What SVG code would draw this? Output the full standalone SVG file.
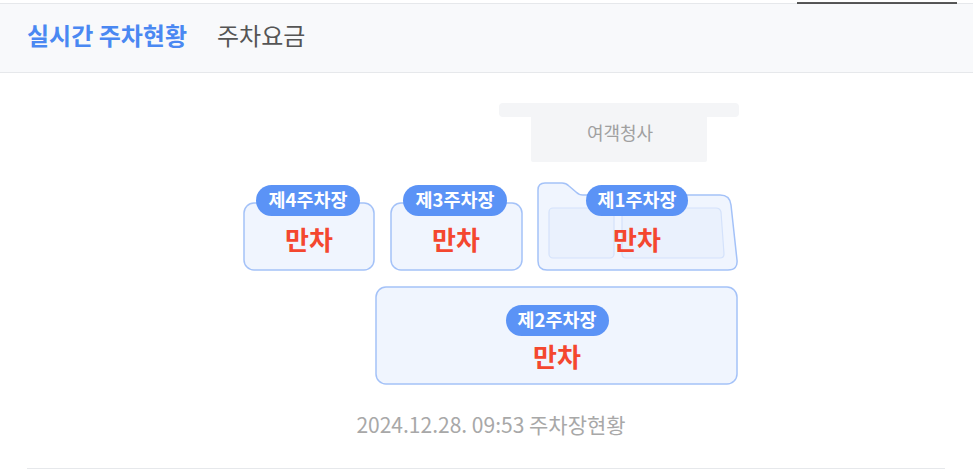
<svg xmlns="http://www.w3.org/2000/svg" width="973" height="473" viewBox="0 0 973 473">
<style>
text{font-family:"Noto Sans CJK KR","Noto Sans",sans-serif}
.lot{fill:#f0f5fe;stroke:#a4c2f8;stroke-width:1.5}
.inner{fill:#eaf1fd;stroke:#d4e2fb;stroke-width:1.2}
.badge{fill:#5b93f6}
.bt{fill:#fff;font-size:18.5px;font-weight:700;text-anchor:middle}
.full{fill:#f4472f;font-size:26px;font-weight:700;text-anchor:middle}
</style>
<rect width="973" height="473" fill="#fff"/>
<g id="header">
<rect x="0" y="3" width="973" height="69" fill="#f8f9fb"/>
<line x1="0" y1="3.5" x2="973" y2="3.5" stroke="#e6e8eb"/>
<line x1="0" y1="72.5" x2="973" y2="72.5" stroke="#e6e8eb"/>
<line x1="797" y1="3" x2="957" y2="3" stroke="#222" stroke-width="1.5"/>
<text x="27" y="45" font-size="24" font-weight="700" fill="#4a88f2">실시간 주차현황</text>
<text x="217" y="45" font-size="24" fill="#555">주차요금</text>
</g>
<g id="terminal">
<rect x="499" y="103" width="240" height="14" rx="4" fill="#f4f5f7"/>
<rect x="531" y="112" width="176" height="50" rx="2" fill="#f4f5f7"/>
<text x="620" y="140" font-size="18" fill="#a0a0a0" text-anchor="middle">여객청사</text>
</g>
<g id="lot4">
<rect class="lot" x="244" y="203" width="130" height="67" rx="10"/>
<rect class="badge" x="256" y="185" width="104" height="31" rx="15.5"/>
<text class="bt" x="308" y="207">제4주차장</text>
<text class="full" x="309" y="250">만차</text>
</g>
<g id="lot3">
<rect class="lot" x="391" y="203" width="131" height="67" rx="10"/>
<rect class="badge" x="403" y="185" width="104" height="31" rx="15.5"/>
<text class="bt" x="455" y="207">제3주차장</text>
<text class="full" x="456" y="250">만차</text>
</g>
<g id="lot1">
<path class="lot" d="M545 183 L562 183 Q566 183 569 186 L576 192 Q579 195 583 195 L720 195 Q730 195 731 205 L737 260 Q738 270 728 270 L547 270 Q538 270 538 261 L538 190 Q538 183 545 183 Z"/>
<rect class="inner" x="549" y="208" width="65" height="50" rx="4"/>
<path class="inner" d="M626 208 L716 208 Q720 208 721 212 L724 254 Q724 258 720 258 L626 258 Q622 258 622 254 L622 212 Q622 208 626 208 Z"/>
<rect class="badge" x="586" y="185" width="102" height="31" rx="15.5"/>
<text class="bt" x="637" y="207">제1주차장</text>
<text class="full" x="637" y="250">만차</text>
</g>
<g id="lot2">
<rect class="lot" x="376" y="287" width="361" height="97" rx="10"/>
<rect class="badge" x="506" y="305" width="103" height="31" rx="15.5"/>
<text class="bt" x="557" y="327">제2주차장</text>
<text class="full" x="557" y="367">만차</text>
</g>
<g id="connectors"></g>
<text x="491" y="433" font-size="21" fill="#a8a8a8" text-anchor="middle">2024.12.28. 09:53 주차장현황</text>
<line x1="27" y1="468.5" x2="945" y2="468.5" stroke="#e6e8eb"/>
</svg>
